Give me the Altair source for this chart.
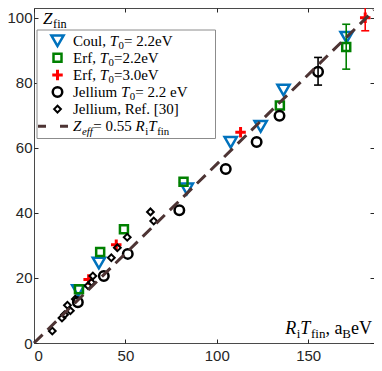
import altair as alt
import pandas as pd

# ---------------- data ----------------
x_ticks = [0, 50, 100, 150]
y_ticks = [0, 20, 40, 60, 80, 100]
x_domain = [0, 186]
y_domain = [0, 103]

coul_x = [24.2, 35.5, 83.6, 107.6, 124.0, 136.5, 171.0]
coul_y = [16.1, 24.6, 47.4, 61.7, 66.6, 77.8, 94.0]

erf22_x = [24.6, 36.2, 49.2, 81.8, 134.5, 170.8]
erf22_y = [16.5, 28.0, 35.0, 49.6, 73.0, 91.0]
erf22_err_x = [170.8]
erf22_err_lo = [84.2]
erf22_err_hi = [98.0]

erf30_x = [29.9, 45.0, 113.0, 181.2]
erf30_y = [19.5, 30.2, 64.8, 100.0]
erf30_err_x = [181.2]
erf30_err_lo = [96.0]
erf30_err_hi = [104.0]

jell_x = [24.0, 38.2, 51.3, 79.5, 104.9, 121.8, 134.3, 155.4]
jell_y = [12.5, 20.6, 27.4, 40.8, 53.5, 61.8, 69.9, 83.4]
jell_err_x = [155.4]
jell_err_lo = [79.3]
jell_err_hi = [87.8]

ref_x = [10.0, 15.3, 16.7, 18.3, 19.9, 22.6, 29.6, 31.4, 32.2, 42.3, 45.6, 51.0, 63.7, 65.5]
ref_y = [3.7, 7.7, 8.7, 11.6, 9.9, 13.5, 17.6, 18.6, 20.6, 26.2, 29.3, 32.5, 40.3, 37.5]

fit_slope = 0.55
fit_x = [0, 186]

# ---------------- layout ----------------
W, H = 340, 335
OX, OY = 34, 8   # page position of the plot origin (top-left)

xs = alt.Scale(domain=x_domain, nice=False, zero=False)
ys = alt.Scale(domain=y_domain, nice=False, zero=False)

BLUE, GREEN, RED, BLACK, BROWN = "#0072BD", "#008000", "#FF0000", "#000000", "#4d3434"

styles = {
    "coul": dict(shape="triangle-down", filled=False, stroke=BLUE, strokeWidth=2.5, size=150),
    "erf22": dict(shape="square", filled=False, stroke=GREEN, strokeWidth=2.5, size=64),
    "erf30": dict(shape="M-1,0H1M0,-1V1", filled=False, stroke=RED, strokeWidth=3, size=110),
    "jell": dict(shape="circle", filled=False, stroke=BLACK, strokeWidth=2.5, size=90),
    "ref": dict(shape="diamond", filled=False, stroke=BLACK, strokeWidth=2, size=46),
}


def pts(xv, yv):
    return pd.DataFrame({"x": xv, "y": yv})


def series(key, xv, yv):
    return alt.Chart(pts(xv, yv)).mark_point(opacity=1, **styles[key]).encode(
        x=alt.X("x:Q", scale=xs, axis=None), y=alt.Y("y:Q", scale=ys, axis=None))


def errbar(xv, lo, hi, color):
    d = pd.DataFrame({"x": xv, "lo": lo, "hi": hi})
    base = alt.Chart(d)
    rule = base.mark_rule(color=color, strokeWidth=1.6).encode(
        x=alt.X("x:Q", scale=xs, axis=None), y=alt.Y("lo:Q", scale=ys, axis=None), y2="hi:Q")
    caps = []
    for f in ("lo", "hi"):
        caps.append(base.mark_point(shape="M-1,0H1", filled=False, stroke=color, strokeWidth=1.6,
                                    size=64, opacity=1).encode(
            x=alt.X("x:Q", scale=xs, axis=None), y=alt.Y(f + ":Q", scale=ys, axis=None)))
    return [rule] + caps


fit_df = pd.DataFrame({"x": fit_x, "y": [fit_slope * v for v in fit_x]})
fit_line = alt.Chart(fit_df).mark_line(color=BROWN, strokeWidth=3, strokeDash=[12, 7]).encode(
    x=alt.X("x:Q", scale=xs, axis=None), y=alt.Y("y:Q", scale=ys, axis=None))

# axes: labels only, plus inward ticks on all four sides
lab_font = "Liberation Sans"
axis_labels = alt.Chart(fit_df).mark_line(opacity=0).encode(
    x=alt.X("x:Q", scale=xs, axis=alt.Axis(values=x_ticks, ticks=False, domain=False, grid=False,
                                             title=None, labelFont=lab_font, labelFontSize=15,
                                             labelColor="#262626", labelPadding=5)),
    y=alt.Y("y:Q", scale=ys, axis=alt.Axis(values=y_ticks, ticks=False, domain=False, grid=False,
                                             title=None, labelFont=lab_font, labelFontSize=15,
                                             labelColor="#262626", labelPadding=2)))


def tick_axis(orient_x, orient_y):
    return alt.Chart(fit_df).mark_line(opacity=0).encode(
        x=alt.X("x:Q", scale=xs, axis=alt.Axis(orient=orient_x, values=x_ticks, labels=False,
                                                 domain=False, grid=False, title=None, tickSize=4,
                                                 offset=-4, tickColor="#262626", tickWidth=1)),
        y=alt.Y("y:Q", scale=ys, axis=alt.Axis(orient=orient_y, values=y_ticks, labels=False,
                                                 domain=False, grid=False, title=None, tickSize=4,
                                                 offset=-4, tickColor="#262626", tickWidth=1)))


# ---------------- text helpers (LaTeX-like labels with subscripts) ----------------
ROMAN = {' ': 250, ',': 250, '.': 250, '=': 564, '[': 333, ']': 333, 'C': 667, 'E': 611,
         'J': 389, 'R': 667, 'T': 611, 'V': 722, 'B': 667, 'Z': 611, 'a': 444, 'e': 444,
         'f': 333, 'i': 278, 'l': 278, 'm': 778, 'n': 500, 'o': 500, 'u': 500, 'r': 333}
ITALIC = {'T': 556, 'Z': 556, 'R': 611, 'e': 444, 'f': 278, 'i': 278}


def tw(s, size, italic):
    tab = ITALIC if italic else ROMAN
    return sum(tab.get(c, ROMAN.get(c, 500)) for c in s) * size / 1000.0


def seg_sizes(segs, size):
    out = []
    for s, it, sub in segs:
        fs = size * (0.72 if sub else 1.0)
        out.append((s, it, sub, fs, tw(s, fs, it) + (0.6 if it else 0)))
    return out


text_rows = []


def add_text(x0, base, segs, size, align_right=False):
    """segs: list of (text, italic, sub)"""
    ss = seg_sizes(segs, size)
    x = x0 - sum(w for *_, w in ss) if align_right else x0
    for s, it, sub, fs, w in ss:
        y = base + (size * 0.24 if sub else 0)
        text_rows.append({"px": x - OX, "py": y - OY, "t": s, "fs": fs, "it": it})
        x += w


# axis annotations
add_text(43, 23.5, [("Z", True, False), ("fin", False, True)], 17)
add_text(372, 334, [("R", True, False), ("i", False, True), ("T", True, False),
                    ("fin", False, True), (", a", False, False), ("B", False, True),
                    ("eV", False, False)], 18, align_right=True)

# legend
leg_x0, leg_sym_x = 73, 57.5
leg_y = [40.7 + 17.1 * i for i in range(6)]
leg_labels = [
    [("Coul, ", False, False), ("T", True, False), ("0", False, True), (" = 2.2eV", False, False)],
    [("Erf, ", False, False), ("T", True, False), ("0", False, True), ("=2.2eV", False, False)],
    [("Erf, ", False, False), ("T", True, False), ("0", False, True), ("=3.0eV", False, False)],
    [("Jellium ", False, False), ("T", True, False), ("0", False, True), (" = 2.2 eV", False, False)],
    [("Jellium, Ref. [30]", False, False)],
    [("Z", True, False), ("eff", True, True), (" = 0.55", False, False), ("R", True, False),
     ("i", False, True), ("T", True, False), ("fin", False, True)],
]
for yy, segs in zip(leg_y, leg_labels):
    add_text(leg_x0, yy + 4.8, segs, 15)

tdf = pd.DataFrame(text_rows)


def text_layer(italic):
    return alt.Chart(tdf[tdf["it"] == italic]).mark_text(
        align="left", baseline="alphabetic", font="Liberation Serif",
        fontStyle="italic" if italic else "normal", color="black").encode(
        x=alt.X("px:Q", scale=None, axis=None), y=alt.Y("py:Q", scale=None, axis=None),
        text="t:N", size=alt.Size("fs:Q", scale=None, legend=None))


legend_box = alt.Chart(pd.DataFrame({"a": [0]})).mark_rect(
    fill="white", stroke="#8c8c8c", strokeWidth=1).encode(
    x=alt.value(37 - OX), x2=alt.value(215.5 - OX), y=alt.value(30 - OY), y2=alt.value(138.5 - OY))


def leg_symbol(key, i):
    d = pd.DataFrame({"px": [leg_sym_x - OX], "py": [leg_y[i] - OY]})
    return alt.Chart(d).mark_point(opacity=1, **styles[key]).encode(
        x=alt.X("px:Q", scale=None, axis=None), y=alt.Y("py:Q", scale=None, axis=None))


leg_line = alt.Chart(pd.DataFrame({"px": [38 - OX], "px2": [68 - OX], "py": [leg_y[5] - OY]})).mark_rule(
    color=BROWN, strokeWidth=3, strokeDash=[8, 14]).encode(
    x=alt.X("px:Q", scale=None, axis=None), x2="px2:Q", y=alt.Y("py:Q", scale=None, axis=None))

layers = [axis_labels, tick_axis("bottom", "left"), tick_axis("top", "right"),
          series("coul", coul_x, coul_y),
          *errbar(erf22_err_x, erf22_err_lo, erf22_err_hi, GREEN),
          series("erf22", erf22_x, erf22_y),
          *errbar(erf30_err_x, erf30_err_lo, erf30_err_hi, RED),
          series("erf30", erf30_x, erf30_y),
          *errbar(jell_err_x, jell_err_lo, jell_err_hi, BLACK),
          series("jell", jell_x, jell_y),
          series("ref", ref_x, ref_y),
          fit_line,
          legend_box,
          leg_symbol("coul", 0), leg_symbol("erf22", 1), leg_symbol("erf30", 2),
          leg_symbol("jell", 3), leg_symbol("ref", 4), leg_line,
          text_layer(False), text_layer(True)]

chart = alt.layer(*layers).resolve_axis(x="independent", y="independent").properties(
    width=W, height=H,
    autosize=alt.AutoSizeParams(type="none"),
    padding={"left": OX - 8, "top": OY - 8, "right": 0, "bottom": 20},
).configure_view(stroke="#4a4a4a", strokeWidth=1)

chart.save("out.html", embed_options={"renderer": "svg", "actions": False})
